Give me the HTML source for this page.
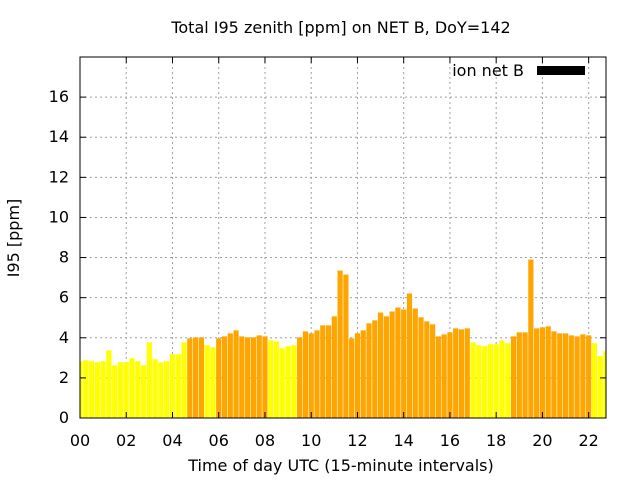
<!DOCTYPE html>
<html><head><meta charset="utf-8"><style>
body{margin:0;background:#fff;}
svg{display:block;font-family:"DejaVu Sans","Liberation Sans",sans-serif;}
</style></head><body>
<svg id="chart" width="640" height="480">
<text x="341" y="33" font-size="16" text-anchor="middle">Total I95 zenith [ppm] on NET B, DoY=142</text>
<text x="341" y="471" font-size="16" text-anchor="middle">Time of day UTC (15-minute intervals)</text>
<text x="19" y="238" font-size="16" text-anchor="middle" transform="rotate(-90 19 238)">I95 [ppm]</text>
<g id="grid"></g>
<g id="bars"></g>
<g id="axes"></g>
<text x="524" y="76" font-size="16" text-anchor="end">ion net B</text>
<rect x="537" y="66" width="48" height="9" fill="#000"/>
</svg>
<script>
const values=[2.83,2.88,2.83,2.78,2.83,3.38,2.63,2.78,2.78,2.98,2.83,2.63,3.77,2.93,2.78,2.83,3.18,3.18,3.77,3.97,4.02,4.02,3.63,3.53,3.97,4.07,4.22,4.37,4.07,4.02,4.02,4.12,4.07,3.87,3.82,3.48,3.58,3.63,4.02,4.32,4.22,4.37,4.62,4.62,5.07,7.35,7.15,3.97,4.22,4.37,4.72,4.87,5.26,5.07,5.31,5.51,5.41,6.21,5.46,5.02,4.82,4.67,4.07,4.17,4.27,4.47,4.42,4.47,3.77,3.63,3.58,3.68,3.68,3.87,3.73,4.07,4.27,4.27,7.90,4.47,4.52,4.57,4.32,4.22,4.22,4.12,4.07,4.17,4.12,3.73,3.08,3.33];
const yTicks=[0,2,4,6,8,10,12,14,16];
const xTickLabels=["00","02","04","06","08","10","12","14","16","18","20","22"];
const threshold=3.9;
const L=80,R=606,T=57,B=418,YMAX=18,NSLOT=91;
const NS="http://www.w3.org/2000/svg";
function X(i){return L+i*(R-L)/NSLOT;}
function Y(v){return B-v*(B-T)/YMAX;}
function mk(tag,attrs,parent){const e=document.createElementNS(NS,tag);for(const k in attrs)e.setAttribute(k,attrs[k]);parent.appendChild(e);return e;}
const grid=document.getElementById('grid'),bars=document.getElementById('bars'),axes=document.getElementById('axes');
yTicks.forEach(v=>{
  const y=Y(v);
  if(v>0){const g=mk('line',{x1:L,x2:R,y1:y,y2:y,stroke:'#a0a0a0','stroke-dasharray':'2,3'},grid);
  
  }
  mk('line',{x1:L,x2:L+6,y1:y,y2:y,stroke:'#000'},axes);
  mk('line',{x1:R,x2:R-6,y1:y,y2:y,stroke:'#000'},axes);
  const t=mk('text',{x:L-11,y:y+5,'font-size':16,'text-anchor':'end'},axes);
  t.textContent=v;
  
  
});
xTickLabels.forEach((lab,k)=>{
  const x=X(k*8);
  if(k>0){const g=mk('line',{x1:x,x2:x,y1:T,y2:B,stroke:'#a0a0a0','stroke-dasharray':'2,3'},grid);
  
  }
  mk('line',{x1:x,x2:x,y1:B,y2:B-6,stroke:'#000'},axes);
  mk('line',{x1:x,x2:x,y1:T,y2:T+6,stroke:'#000'},axes);
  const t=mk('text',{x:x,y:B+28,'font-size':16,'text-anchor':'middle'},axes);
  t.textContent=lab;
  
  
});
const clip=mk('clipPath',{id:'pc'},document.getElementById('chart'));
mk('rect',{x:L,y:T,width:R-L,height:B-T},clip);
bars.setAttribute('clip-path','url(#pc)');
const w=(R-L)/NSLOT*0.9;
values.forEach((v,i)=>{
  const r=mk('rect',{x:X(i)-w/2,y:Y(v),width:w,height:B-Y(v),fill:v>=threshold?'#ffa500':'#ffff00'},bars);
  
  
});
const f=mk('rect',{x:L,y:T,width:R-L,height:B-T,fill:'none',stroke:'#000','stroke-width':1},axes);


</script>
</body></html>
